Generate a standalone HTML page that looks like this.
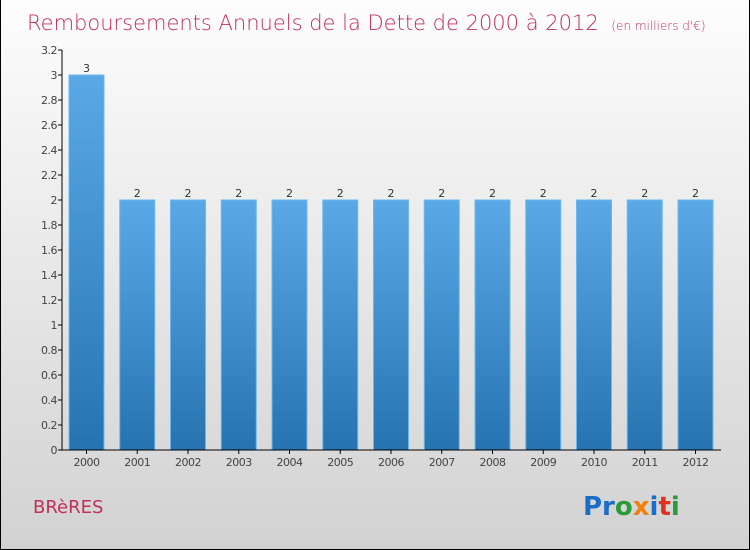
<!DOCTYPE html>
<html><head><meta charset="utf-8"><style>
body{margin:0}
#c{width:750px;height:550px;position:relative;overflow:hidden;font-family:"DejaVu Sans","Liberation Sans",sans-serif;
background:linear-gradient(#fdfdfd,#d2d2d2);box-sizing:border-box;border:1px solid #000;border-width:0 1px 1px 1px}
</style></head><body>
<div id="c">
<svg width="750" height="550">
<defs><linearGradient id="g" x1="0" y1="0" x2="0" y2="1"><stop offset="0" stop-color="#5aa9e6"/><stop offset="1" stop-color="#2673b0"/></linearGradient></defs>
<text x="26" y="30" font-size="21" fill="#c0305a" font-family="DejaVu Sans,sans-serif" font-weight="200">Remboursements Annuels de la Dette de 2000 à 2012 <tspan font-size="12" dx="6">(en milliers d'€)</tspan></text>
<g id="plot"></g>
<text x="32" y="513" font-size="18" fill="#c0305a">BRèRES</text>
<text x="582" y="515" font-size="26" font-weight="bold"><tspan fill="#1a6ec8">Pr</tspan><tspan fill="#2a9a3a">o</tspan><tspan fill="#f08010">x</tspan><tspan fill="#1a6ec8">i</tspan><tspan fill="#e03020">t</tspan><tspan fill="#2a9a3a">i</tspan></text>
</svg>
</div>
<script>
const categories=["2000","2001","2002","2003","2004","2005","2006","2007","2008","2009","2010","2011","2012"];
const values=[3,2,2,2,2,2,2,2,2,2,2,2,2];
const tickLabels=["0","0.2","0.4","0.6","0.8","1","1.2","1.4","1.6","1.8","2","2.2","2.4","2.6","2.8","3","3.2"];
const ns="http://www.w3.org/2000/svg";
const g=document.getElementById('plot');
const y=v=>450-v*125;
const xc=i=>85.5+i*50.75;
function mk(t,a){const e=document.createElementNS(ns,t);for(const k in a)e.setAttribute(k,a[k]);g.appendChild(e);return e;}
tickLabels.forEach(t=>{const v=parseFloat(t);
 const l=mk('line',{x1:57,x2:61,y1:y(v),y2:y(v),stroke:'#000'});
 
 
 const tx=mk('text',{x:56,y:y(v)+4,'text-anchor':'end','font-size':11,fill:'#444','letter-spacing':'-0.5'});tx.textContent=t;
 
 
});
categories.forEach((c,i)=>{
 const b=mk('rect',{x:xc(i)-17.5,y:y(values[i]),width:35,height:450-y(values[i]),fill:'url(#g)',stroke:'#6bb8f0','stroke-width':1});
 
 
 const v=mk('text',{x:xc(i),y:y(values[i])-3,'text-anchor':'middle','font-size':11,fill:'#333'});v.textContent=values[i];
 
 
 const tk=mk('line',{x1:xc(i),x2:xc(i),y1:450,y2:454,stroke:'#000'});
 
 
 const t=mk('text',{x:xc(i),y:466,'text-anchor':'middle','font-size':11,fill:'#444','letter-spacing':'-0.5'});t.textContent=c;
 
 
});
const ya=mk('line',{x1:61,x2:61,y1:50,y2:450,stroke:'#000'});


const xa=mk('line',{x1:61,x2:720,y1:450,y2:450,stroke:'#000'});


</script>
</body></html>
